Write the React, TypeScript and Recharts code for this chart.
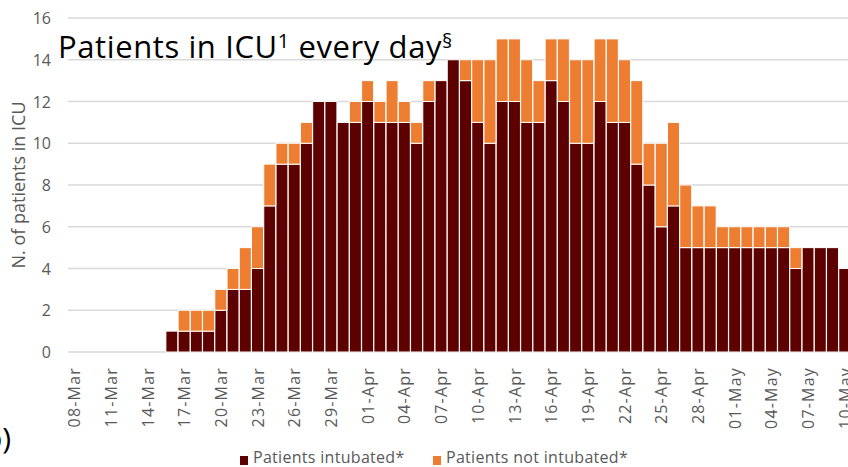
import React from 'react';
import { BarChart, Bar, XAxis, YAxis, CartesianGrid, Legend } from 'recharts';

const days = [
  '08-Mar', '09-Mar', '10-Mar', '11-Mar', '12-Mar', '13-Mar', '14-Mar', '15-Mar',
  '16-Mar', '17-Mar', '18-Mar', '19-Mar', '20-Mar', '21-Mar', '22-Mar', '23-Mar',
  '24-Mar', '25-Mar', '26-Mar', '27-Mar', '28-Mar', '29-Mar', '30-Mar', '31-Mar',
  '01-Apr', '02-Apr', '03-Apr', '04-Apr', '05-Apr', '06-Apr', '07-Apr', '08-Apr',
  '09-Apr', '10-Apr', '11-Apr', '12-Apr', '13-Apr', '14-Apr', '15-Apr', '16-Apr',
  '17-Apr', '18-Apr', '19-Apr', '20-Apr', '21-Apr', '22-Apr', '23-Apr', '24-Apr',
  '25-Apr', '26-Apr', '27-Apr', '28-Apr', '29-Apr', '30-Apr', '01-May', '02-May',
  '03-May', '04-May', '05-May', '06-May', '07-May', '08-May', '09-May', '10-May',
];

const intubated = [
  0, 0, 0, 0, 0, 0, 0, 0,
  1, 1, 1, 1, 2, 3, 3, 4,
  7, 9, 9, 10, 12, 12, 11, 11,
  12, 11, 11, 11, 10, 12, 13, 14,
  13, 11, 10, 12, 12, 11, 11, 13,
  12, 10, 10, 12, 11, 11, 9, 8,
  6, 7, 5, 5, 5, 5, 5, 5,
  5, 5, 5, 4, 5, 5, 5, 4,
];

const notIntubated = [
  0, 0, 0, 0, 0, 0, 0, 0,
  0, 1, 1, 1, 1, 1, 2, 2,
  2, 1, 1, 1, 0, 0, 0, 1,
  1, 1, 2, 1, 1, 1, 0, 0,
  1, 3, 4, 3, 3, 3, 2, 2,
  3, 4, 4, 3, 4, 3, 4, 2,
  4, 4, 3, 2, 2, 1, 1, 1,
  1, 1, 1, 1, 0, 0, 0, 0,
];

const yTicks = [0, 2, 4, 6, 8, 10, 12, 14, 16];

const data = days.map((day, i) => ({
  day,
  intubated: intubated[i],
  notIntubated: notIntubated[i],
}));

const DARK = '#5c0000';
const ORANGE = '#ed7d31';
const GREY = '#595959';
const FONT = '"Open Sans", sans-serif';

// rotated date labels, read bottom to top
const XTick = ({ x, payload }: any) => (
  <text
    transform={`translate(${x},367) rotate(-90)`}
    textAnchor="end"
    dominantBaseline="central"
    fill={GREY}
    fontSize={16}
    fontFamily={FONT}
    letterSpacing={1.2}
  >
    {payload.value}
  </text>
);

const YTick = ({ y, payload }: any) => (
  <text x={51} y={y} textAnchor="end" dominantBaseline="central" fill={GREY} fontSize={16} fontFamily={FONT}>
    {payload.value}
  </text>
);

const YLabel = () => (
  <text
    transform="translate(18,185) rotate(-90)"
    textAnchor="middle"
    dominantBaseline="central"
    fill={GREY}
    fontSize={18}
    fontFamily={FONT}
  >
    N. of patients in ICU
  </text>
);

const LegendBox = () => {
  const item = (left: number, color: string, label: string) => (
    <>
      <span style={{ position: 'absolute', left, top: 11, width: 8, height: 9, background: color }} />
      <span
        style={{
          position: 'absolute',
          left: left + 13,
          top: 1,
          lineHeight: '22px',
          color: GREY,
          fontSize: 16,
          fontFamily: FONT,
          letterSpacing: 0.3,
          whiteSpace: 'nowrap',
        }}
      >
        {label}
      </span>
    </>
  );
  return (
    <div style={{ position: 'relative', height: 22, width: 848 }}>
      {item(240, DARK, 'Patients intubated*')}
      {item(433, ORANGE, 'Patients not intubated*')}
    </div>
  );
};

export default function App() {
  return (
    <div style={{ position: 'absolute', left: 0, top: 0, width: 848, height: 467, overflow: 'hidden', background: '#fff' }}>
      <BarChart
        width={851}
        height={467}
        data={data}
        margin={{ top: 18, right: 0, bottom: 0, left: 0 }}
        barCategoryGap={0}
      >
        <CartesianGrid vertical={false} stroke="#d9d9d9" strokeWidth={1.5} />
        <XAxis
          dataKey="day"
          interval={2}
          height={93}
          tickLine={false}
          axisLine={false}
          tick={<XTick />}
        />
        <YAxis
          width={68}
          domain={[0, 16]}
          ticks={yTicks}
          tickLine={false}
          axisLine={false}
          tick={<YTick />}
          label={{ content: <YLabel /> }}
        />
        <Legend verticalAlign="bottom" content={<LegendBox />} wrapperStyle={{ left: 0, width: 848 }} />
        <Bar dataKey="intubated" stackId="a" fill={DARK} stroke="#fff" strokeWidth={1} isAnimationActive={false} />
        <Bar dataKey="notIntubated" stackId="a" fill={ORANGE} stroke="#fff" strokeWidth={1} isAnimationActive={false} />
      </BarChart>
      <div
        style={{
          position: 'absolute',
          left: 58,
          top: 25,
          fontFamily: FONT,
          fontSize: 31,
          lineHeight: '31px',
          letterSpacing: 0.6,
          color: '#000',
          whiteSpace: 'nowrap',
          pointerEvents: 'none',
        }}
      >
        Patients in ICU<span style={{ fontSize: 20, verticalAlign: 10 }}>1</span> every day
        <span style={{ fontSize: 20, verticalAlign: 10 }}>§</span>
      </div>
      <div
        style={{
          position: 'absolute',
          left: -16,
          top: 418,
          fontFamily: FONT,
          fontSize: 30,
          lineHeight: '40px',
          color: '#000',
          pointerEvents: 'none',
        }}
      >
        b)
      </div>
    </div>
  );
}
